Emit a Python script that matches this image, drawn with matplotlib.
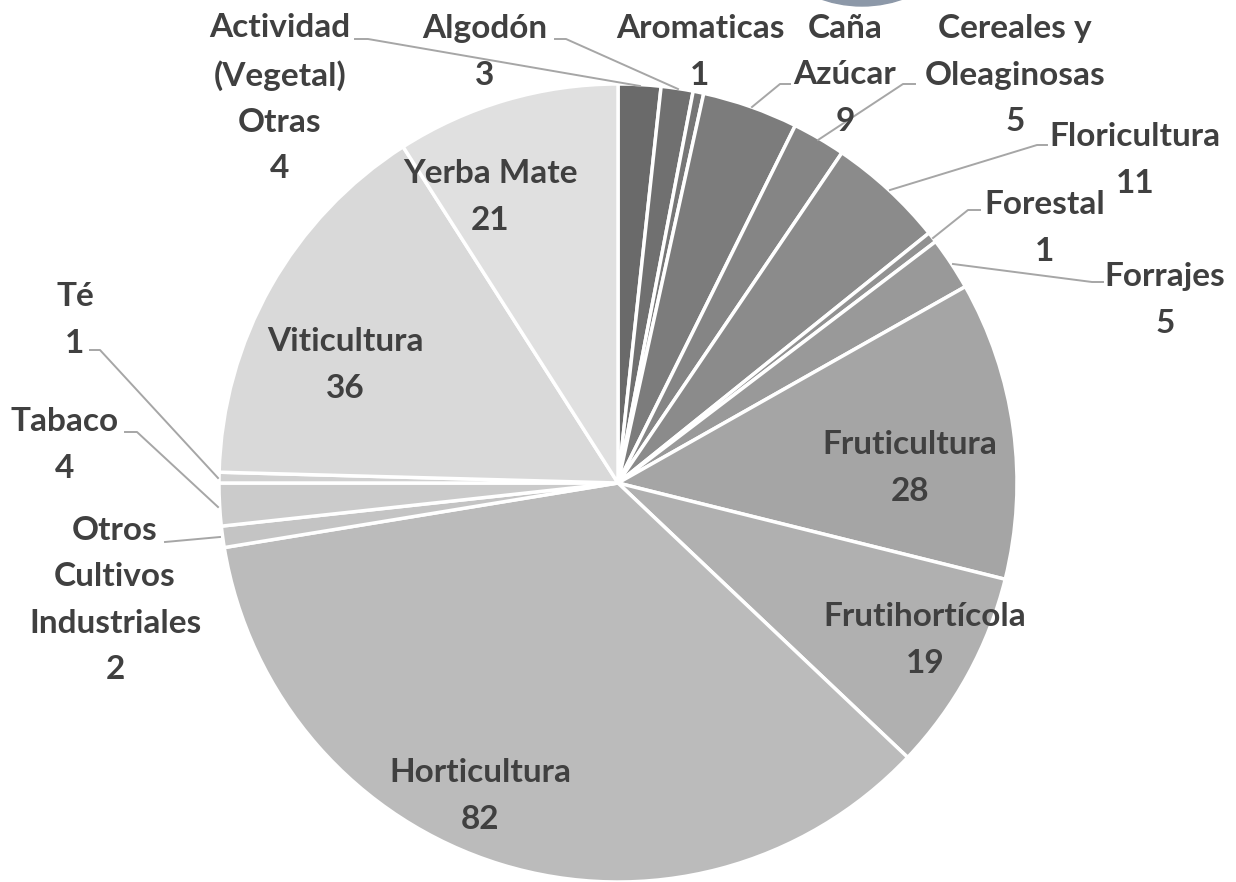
import matplotlib
matplotlib.use('Agg')
import matplotlib.pyplot as plt
from matplotlib.patches import Circle

# Data
categories = ['Actividad\n(Vegetal)\nOtras', 'Algodón', 'Aromaticas', 'Caña\nAzúcar',
              'Cereales y\nOleaginosas', 'Floricultura', 'Forestal', 'Forrajes',
              'Fruticultura', 'Frutihortícola', 'Horticultura',
              'Otros\nCultivos\nIndustriales', 'Tabaco', 'Té', 'Viticultura', 'Yerba Mate']
values = [4, 3, 1, 9, 5, 11, 1, 5, 28, 19, 82, 2, 4, 1, 36, 21]

# Slice shades, dark to light
colors = ['#6a6a6a', '#707070', '#767676', '#7c7c7c', '#858585', '#8b8b8b', '#929292',
          '#999999', '#a5a5a5', '#b0b0b0', '#bbbbbb', '#c4c4c4', '#cbcbcb', '#d1d1d1',
          '#d9d9d9', '#e0e0e0']

W, H = 1236, 882
fig = plt.figure(figsize=(W / 100, H / 100), dpi=100)
ax = fig.add_axes([0, 0, 1, 1])

cx, cy, r = 618, H - 483, 399
ax.pie(values, colors=colors, startangle=90, counterclock=False,
       center=(cx, cy), radius=r, frame=True,
       wedgeprops=dict(edgecolor='white', linewidth=2.5))
ax.set_xlim(0, W)
ax.set_ylim(0, H)
ax.set_aspect('equal')
ax.axis('off')

# label layout in pixel coords (x, y of text centre)
label_pos = {
    0: (280, 98), 1: (485, 52), 2: (700, 52), 3: (845, 75), 4: (1015, 75),
    5: (1135, 160), 6: (1045, 228), 7: (1165, 300), 8: (910, 468),
    9: (925, 640), 10: (480, 796), 11: (115, 600), 12: (65, 445),
    13: (75, 320), 14: (345, 365), 15: (490, 197),
}
# leader lines (pixel coords)
leaders = {
    0: [(355, 39), (368, 39), (640, 86)],
    1: [(555, 39), (566, 39), (678, 89)],
    3: [(790, 84), (780, 84), (752, 107)],
    4: [(915, 84), (903, 84), (818, 140)],
    5: [(1047, 145), (1037, 145), (890, 190)],
    6: [(980, 210), (968, 210), (933, 238)],
    7: [(1103, 282), (1092, 282), (953, 264)],
    11: [(165, 542), (220, 537)],
    12: [(125, 432), (137, 432), (218, 507)],
    13: [(90, 350), (100, 350), (218, 478)],
}

for i, pts in leaders.items():
    xs = [p[0] for p in pts]
    ys = [H - p[1] for p in pts]
    ax.plot(xs, ys, color='#a6a6a6', linewidth=1.4, zorder=1)

for i, (name, val) in enumerate(zip(categories, values)):
    x, y = label_pos[i]
    ax.text(x, H - y, f'{name}\n{val}', ha='center', va='center',
            fontsize=24, fontweight='bold', color='#404040',
            family='Lato', linespacing=1.72)

# stray shape at top edge
ax.add_patch(Circle((862, H + 117), 123, color='#8c98a8', zorder=0))

fig.savefig('out.png', dpi=100)
